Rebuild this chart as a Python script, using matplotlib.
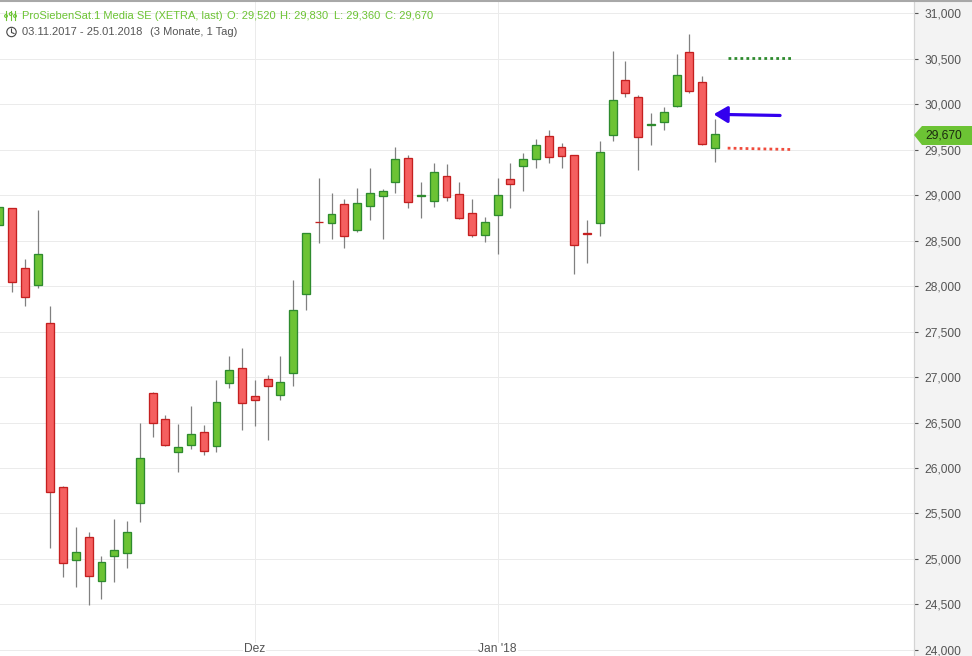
"""Candlestick chart of ProSiebenSat.1 Media SE, daily, with hand-drawn markers."""

import matplotlib
matplotlib.use("Agg")
import matplotlib.pyplot as plt
from matplotlib.patches import Circle, Polygon
from matplotlib.transforms import Affine2D

opens = [28667, 28854, 28195, 28008, 27590, 25788, 24986, 25238, 24755, 25030,
         25063, 25612, 26821, 26538, 26173, 26250, 26392, 26238, 26931, 27096,
         26788, 26975, 26799, 27041, 27909, 28705, 28689, 28898, 28612, 28876,
         28986, 29140, 29403, 28990, 28931, 29205, 29008, 28799, 28557, 28777,
         29173, 29315, 29392, 29645, 29524, 29436, 28580, 28689, 29656, 30260,
         30074, 29770, 29799, 29975, 30568, 30238, 29520]
closes = [28865, 28041, 27876, 28348, 25733, 24953, 25074, 24810, 24964, 25096,
          25293, 26107, 26491, 26250, 26227, 26370, 26183, 26722, 27074, 26711,
          26744, 26898, 26942, 27733, 28578, 28700, 28788, 28546, 28909, 29019,
          29041, 29392, 28920, 28995, 29249, 28975, 28744, 28557, 28700, 28997,
          29118, 29392, 29546, 29414, 29425, 28447, 28575, 29469, 30041, 30118,
          29634, 29775, 29909, 30315, 30140, 29557, 29670]
highs = [28865, 28854, 28293, 28835, 27780, 25802, 25352, 25297, 25033, 25440,
         25418, 26495, 26835, 26582, 26484, 26681, 26473, 26967, 27231, 27319,
         26967, 27022, 27231, 28066, 28582, 29187, 29022, 28953, 29077, 29297,
         29063, 29527, 29440, 29143, 29352, 29341, 29143, 28956, 28755, 29187,
         29352, 29462, 29615, 29714, 29571, 29440, 28725, 29593, 30582, 30473,
         30099, 29901, 29967, 30549, 30769, 30308, 29830]
lows = [28667, 27937, 27784, 27981, 25124, 24805, 24696, 24498, 24564, 24751,
        24904, 25410, 26344, 26240, 25959, 26212, 26146, 26179, 26882, 26421,
        26465, 26308, 26751, 26904, 27740, 28476, 28520, 28421, 28597, 28729,
        28520, 29025, 28860, 28751, 28871, 28937, 28740, 28542, 28487, 28355,
        28860, 29047, 29300, 29355, 29300, 28135, 28256, 28553, 29597, 30080,
        29278, 29553, 29718, 29970, 30124, 29550, 29360]

price_ticks = list(range(24000, 31500, 500))
month_ticks = [20, 39]
month_labels = ["Dez", "Jan '18"]
last_price = 29670
target_high = [30510, 30510]
target_low = [29515, 29500]

GREEN = "#6cc334"
GREEN_EDGE = "#2e8b2e"
RED = "#f55f5f"
RED_EDGE = "#c42020"
GRID = "#ebebeb"
TEXT = "#555555"

plt.rcParams["font.family"] = ["Liberation Sans", "DejaVu Sans"]

fig = plt.figure(figsize=(9.72, 6.56), dpi=100, facecolor="#f3f3f3")
ax = fig.add_axes([0, 0, 914 / 972, 1], facecolor="white")

# Everything outside the plot is placed in pixels from the top left corner.
px = Affine2D().scale(1 / 972, -1 / 656).translate(0, 1) + fig.transFigure

x = list(range(len(opens)))
body_colors = [GREEN if c > o else RED for o, c in zip(opens, closes)]
edge_colors = [GREEN_EDGE if c > o else RED_EDGE for o, c in zip(opens, closes)]

ax.vlines(x, lows, highs, color="#808080", linewidth=0.9, zorder=2)
ax.bar(x, [c - o for o, c in zip(opens, closes)], bottom=opens, width=0.62,
       color=body_colors, edgecolor=edge_colors, linewidth=0.95, zorder=3)

ax.set_xlim(0.06, 71.58)
ax.set_ylim(23934, 31143)

ax.set_yticks(price_ticks)
ax.set_yticklabels([f"{p:,}" for p in price_ticks], fontsize=8.64, color=TEXT)
ax.yaxis.tick_right()
ax.tick_params(axis="y", length=3, width=0.8, color=TEXT, pad=4.5)

ax.set_xticks(month_ticks)
ax.set_xticklabels(month_labels, fontsize=8.64, color=TEXT,
                   bbox=dict(facecolor="white", edgecolor="none", pad=0.5))
ax.tick_params(axis="x", direction="in", length=1.5, width=0.8, color=TEXT, pad=-9)

ax.grid(True, color=GRID, linewidth=0.72, zorder=0)
ax.set_axisbelow(True)
ax.xaxis.set_zorder(0.6)  # month labels sit on top of the horizontal grid

for side in ("top", "left", "bottom"):
    ax.spines[side].set_visible(False)
ax.spines["right"].set_color("#d4d4d4")
ax.spines["right"].set_linewidth(0.9)

# Hand-drawn target lines and arrow
ax.plot([57, 62], target_high, color=GREEN_EDGE, linewidth=2.0,
        linestyle=(0, (1, 1.15)), zorder=4)
ax.plot([57, 62], target_low, color="#f04b3c", linewidth=2.0,
        linestyle=(0, (1, 1.15)), zorder=4)
ax.annotate("", xy=(55.9, 29887), xytext=(61.1, 29874),
            arrowprops=dict(arrowstyle="-|>,head_length=0.55,head_width=0.33",
                            color="#3300ee", linewidth=2.3, shrinkA=0, shrinkB=0,
                            mutation_scale=15), zorder=5)

# Last price tag on the axis
fig.add_artist(Polygon([(914, 135), (922, 126), (972, 126), (972, 145), (922, 145)],
                       closed=True, facecolor=GREEN, edgecolor="none",
                       transform=px, zorder=5))
fig.text(925, 135.5, f"{last_price:,}", transform=px, fontsize=8.64,
         color="#1c2a10", va="center", zorder=6)

# Header, first line
fig.text(22, 16, "ProSiebenSat.1 Media SE (XETRA, last)", transform=px,
         fontsize=8, color=GREEN, va="center")
for left, part in [(226.5, "O: 29,520"), (280, "H: 29,830"), (334, "L: 29,360"),
                   (385, "C: 29,670")]:
    fig.text(left, 16, part, transform=px, fontsize=8, color=GREEN, va="center")

# Small instrument icon
for left, top, bottom, dot in [(6, 11, 20, 16), (10.7, 11, 20, 14), (15, 11, 20, 16)]:
    fig.add_artist(plt.Line2D([left, left], [top, bottom], color=GREEN, linewidth=0.8,
                              transform=px))
    fig.add_artist(Circle((left, dot), 1.4, facecolor="white", edgecolor=GREEN,
                          linewidth=0.8, transform=px))

# Header, second line
fig.text(22, 32, "03.11.2017 - 25.01.2018", transform=px, fontsize=8,
         color=TEXT, va="center")
fig.text(150, 32, "(3 Monate, 1 Tag)", transform=px, fontsize=8,
         color=TEXT, va="center")
fig.add_artist(Circle((11.5, 32), 4.7, facecolor="none", edgecolor="#444444",
                      linewidth=0.8, transform=px))
fig.add_artist(plt.Line2D([11.5, 11.5, 14], [29, 32.5, 33.5], color="#444444", linewidth=0.8,
                          transform=px))

# Frame line along the top edge
fig.add_artist(plt.Line2D([0, 972], [1, 1], color="#a8a8a8", linewidth=1.5, transform=px))

fig.savefig("out.png", dpi=100, facecolor=fig.get_facecolor())
plt.close(fig)
